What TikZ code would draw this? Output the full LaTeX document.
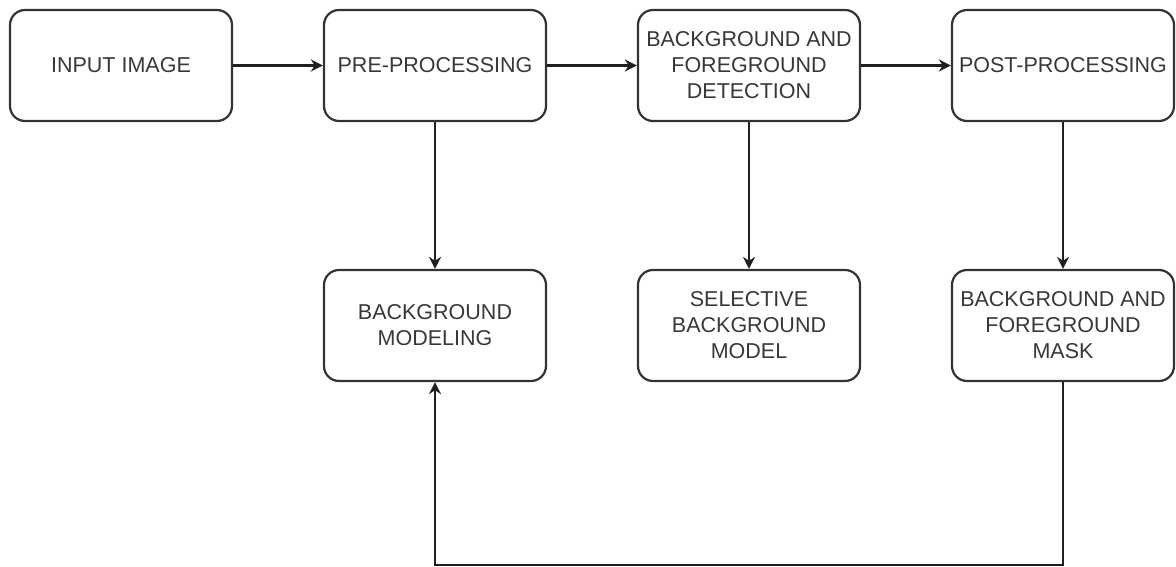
\documentclass[tikz,border=0pt]{standalone}
\usepackage{fontspec}
\setmainfont{Liberation Sans}
\usepackage{tikz}
\usetikzlibrary{arrows.meta,positioning}

\begin{document}
\begin{tikzpicture}[
  x=1pt, y=-1pt,
  >={Stealth[length=12pt,width=12pt]},
  blk/.style={draw=black!80, line width=2.2pt, rounded corners=15pt, fill=white,
              font=\fontsize{21.5}{26}\selectfont, text=black!78, align=center,
              minimum width=222pt, minimum height=111pt, inner sep=1pt},
  e/.style={->, line width=2.2pt, draw=black!88},
]
\useasboundingbox (0,0) rectangle (1176,567);
% top row
\node[blk] (input)  at (121,65.5) {INPUT IMAGE};
\node[blk] (prep)   at (435,65.5) {PRE-PROCESSING};
\node[blk] (detect) at (749,65.5) {BACKGROUND AND\\FOREGROUND\\DETECTION};
\node[blk] (post)   at (1063,65.5){POST-PROCESSING};
% bottom row
\node[blk] (model)  at (435,325.5) {BACKGROUND\\MODELING};
\node[blk] (select) at (749,325.5) {SELECTIVE\\BACKGROUND\\MODEL};
\node[blk] (mask)   at (1063,325.5){BACKGROUND AND\\FOREGROUND\\MASK};

\draw[e] (input) -- (prep);
\draw[e] (prep) -- (detect);
\draw[e] (detect) -- (post);
\draw[e] (prep) -- (model);
\draw[e] (detect) -- (select);
\draw[e] (post) -- (mask);
\draw[e] (mask.south) -- ++(0,183) -| (model.south);
\end{tikzpicture}
\end{document}
